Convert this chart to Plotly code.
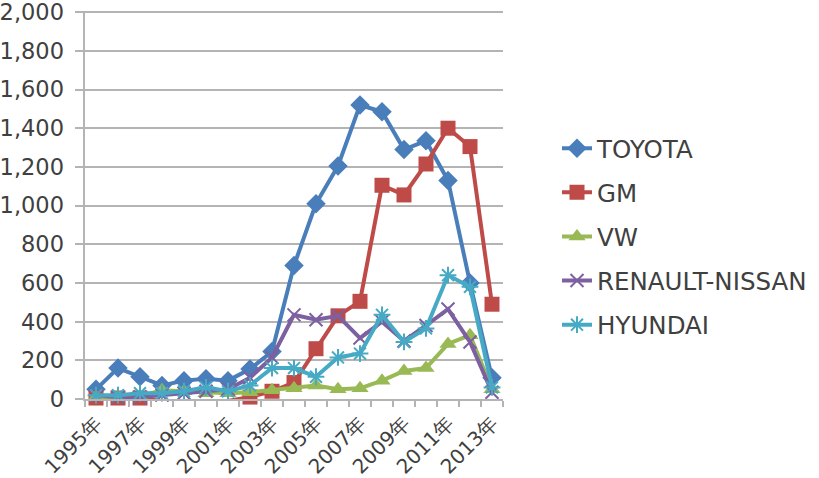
import plotly.graph_objects as go

years = list(range(1995, 2014))
tick_years = [1995, 1997, 1999, 2001, 2003, 2005, 2007, 2009, 2011, 2013]
tick_text = [f"{y}年" for y in tick_years]

toyota = [50, 160, 115, 70, 95, 105, 95, 155, 245, 690, 1010, 1205, 1520, 1485, 1290, 1335, 1130, 600, 110]
gm = [5, 5, 5, -10, -10, -10, -10, 10, 40, 85, 260, 430, 505, 1105, 1055, 1215, 1400, 1305, 490]
vw = [10, 10, 15, 45, 40, 30, 30, 35, 45, 55, 70, 50, 55, 95, 145, 160, 285, 330, 50]
renault = [20, 10, 10, 20, 30, 40, 50, 110, 215, 435, 410, 430, 315, 400, 300, 380, 465, 295, 35]
hyundai = [20, 20, 30, 30, 40, 60, 40, 70, 160, 160, 115, 215, 235, 435, 295, 365, 640, 580, 60]

series = [
    ("TOYOTA", toyota, "#4A7EBB", "diamond", 15, 0),
    ("GM", gm, "#BE4B48", "square", 15, 0),
    ("VW", vw, "#98B954", "triangle-up", 15, 0),
    ("RENAULT-NISSAN", renault, "#7D60A0", "x-thin-open", 13, 2),
    ("HYUNDAI", hyundai, "#46AAC5", "asterisk-open", 14, 2),
]

fig = go.Figure()
for i, (name, vals, color, sym, size, lw) in enumerate(series):
    fig.add_trace(go.Scatter(
        x=years, y=vals, name=name, mode="lines+markers",
        line=dict(color=color, width=4),
        marker=dict(symbol=sym, size=size, color=color,
                    line=dict(color=color, width=lw)),
        legendgroup=f"g{i}", cliponaxis=False,
    ))
# empty trace that only links the label-only overlay axis
fig.add_trace(go.Scatter(x=[], y=[], yaxis="y2", showlegend=False,
                         hoverinfo="skip"))

grid = "#b4b4b4"
W = 819
fig.update_layout(
    width=W, height=478,
    margin=dict(l=0, r=0, t=11, b=79),
    paper_bgcolor="white", plot_bgcolor="white",
    font=dict(family="DejaVu Sans", size=22, color="#404040"),
    showlegend=True,
    legend=dict(x=557 / W, y=0.704, xanchor="left", yanchor="top",
                font=dict(size=24.5, color="#404040"),
                tracegroupgap=9.25, bgcolor="rgba(0,0,0,0)"),
    xaxis=dict(
        domain=[85 / W, 503 / W],
        range=[1994.5, 2013.5], tickmode="array", tickvals=tick_years,
        ticktext=tick_text, tickangle=-45, ticks="", showgrid=False,
        showline=True, linecolor=grid, linewidth=1.5,
        tickfont=dict(size=20, color="#404040"),
        ticklabelstandoff=3, automargin=False, ticklabeloverflow="allow",
        minor=dict(tick0=1994.5, dtick=1, ticks="outside", ticklen=6,
                   tickcolor=grid, tickwidth=1.5, showgrid=False),
        zeroline=False,
    ),
    yaxis=dict(
        range=[0, 2006], tickmode="linear", tick0=0, dtick=200,
        showticklabels=False, showgrid=True,
        gridcolor=grid, gridwidth=1.5, ticks="outside", ticklen=8,
        tickcolor=grid, tickwidth=1.5, showline=True, linecolor=grid,
        linewidth=1.5, zeroline=False, automargin=False,
    ),
    yaxis2=dict(
        overlaying="y", anchor="free", position=64 / W, side="left",
        range=[0, 2006], tickmode="linear", tick0=0, dtick=200,
        tickformat=",", showgrid=False, showline=False, ticks="",
        zeroline=False, automargin=False, ticklabeloverflow="allow",
        tickfont=dict(size=22.5, color="#404040"),
    ),
)

fig.write_html("out.html")
